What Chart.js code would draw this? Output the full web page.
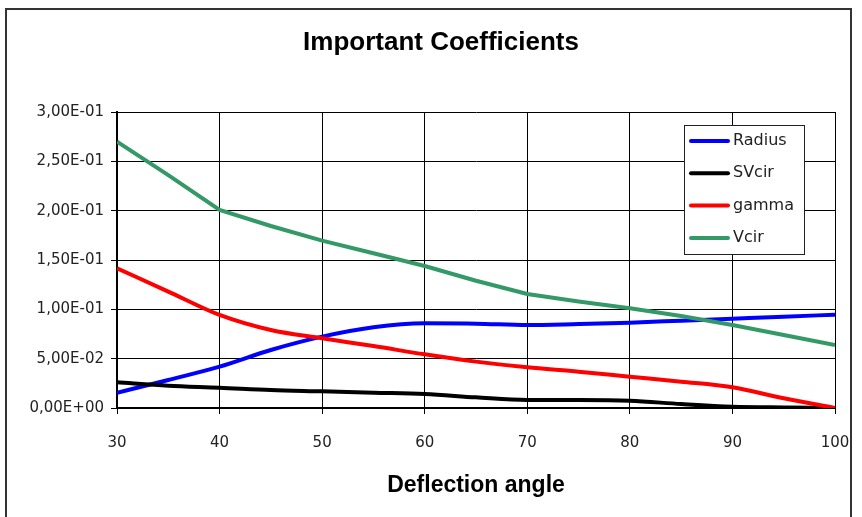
<!DOCTYPE html>
<html>
<head>
<meta charset="utf-8">
<script src="https://cdn.jsdelivr.net/npm/chart.js@4/dist/chart.umd.min.js"></script>
<style>
  html, body { margin: 0; padding: 0; background: #fff; }
  #wrap { width: 862px; height: 517px; }
</style>
</head>
<body>
<div id="wrap"><canvas id="c" width="862" height="517"></canvas></div>
<script>
// Deflection angle (degrees)
const angles = [30, 35, 40, 45, 50, 55, 60, 65, 70, 75, 80, 85, 90, 95, 100];

// Coefficient series
const radius = [0.0155, 0.0284, 0.0419, 0.0588, 0.0723, 0.0818, 0.0858, 0.0855, 0.0840, 0.0851, 0.0865, 0.0885, 0.0905, 0.0925, 0.0946];
const svcir  = [0.0260, 0.0226, 0.0206, 0.0182, 0.0169, 0.0155, 0.0142, 0.0108, 0.0081, 0.0081, 0.0074, 0.0040, 0.0013, 0.0005, 0.0000];
const gamma  = [0.1416, 0.1180, 0.0943, 0.0790, 0.0706, 0.0628, 0.0544, 0.0470, 0.0412, 0.0368, 0.0317, 0.0267, 0.0210, 0.0098, 0.0000];
const vcir   = [0.2699, 0.2360, 0.2007, 0.1845, 0.1696, 0.1568, 0.1439, 0.1290, 0.1155, 0.1080, 0.1010, 0.0932, 0.0841, 0.0740, 0.0638];

const seriesNames = ['Radius', 'SVcir', 'gamma', 'Vcir'];
const seriesColors = ['#0000ff', '#000000', '#ff0000', '#339966'];
const seriesValues = [radius, svcir, gamma, vcir];
const smoothSeries = [true, true, true, false];

const chartTitle = 'Important Coefficients';
const xAxisTitle = 'Deflection angle';

const toPoints = vals => angles.map((a, i) => ({ x: a, y: vals[i] }));

// Scientific labels with a decimal comma, e.g. 2,50E-01
function sciLabel(v) {
  if (Math.abs(v) < 1e-12) return '0,00E+00';
  const [m, e] = v.toExponential(2).split('e');
  const n = parseInt(e, 10);
  const exp = (n < 0 ? '-' : '+') + String(Math.abs(n)).padStart(2, '0');
  return m.replace('.', ',') + 'E' + exp;
}

// Outer frame and the chart heading
const framePlugin = {
  id: 'frame',
  beforeDraw(chart, args, opts) {
    const ctx = chart.ctx;
    ctx.save();
    ctx.fillStyle = '#fff';
    ctx.fillRect(0, 0, chart.width, chart.height);
    ctx.strokeStyle = '#333';
    ctx.lineWidth = 2;
    ctx.strokeRect(6, 9, 845, 530);
    ctx.fillStyle = '#000';
    ctx.font = 'bold 26px "Liberation Sans", Arial, sans-serif';
    ctx.textAlign = 'center';
    ctx.textBaseline = 'middle';
    ctx.fillText(opts.text, opts.cx, opts.cy);
    ctx.restore();
  }
};

// Boxed legend inside the plot area
const boxLegend = {
  id: 'boxLegend',
  afterDatasetsDraw(chart, args, opts) {
    const ctx = chart.ctx;
    const { x, y, w, h, rowH, lineLen, gap } = opts;
    ctx.save();
    ctx.fillStyle = '#fff';
    ctx.fillRect(x, y, w, h);
    ctx.strokeStyle = '#222';
    ctx.lineWidth = 1;
    ctx.strokeRect(x + 0.5, y + 0.5, w, h);
    ctx.font = '16px "DejaVu Sans"';
    ctx.textBaseline = 'middle';
    chart.data.datasets.forEach((ds, i) => {
      const cy = y + 16 + i * rowH;
      ctx.strokeStyle = ds.borderColor;
      ctx.lineWidth = 4;
      ctx.lineCap = 'round';
      ctx.beginPath();
      ctx.moveTo(x + 7, cy);
      ctx.lineTo(x + 7 + lineLen, cy);
      ctx.stroke();
      ctx.fillStyle = '#222';
      ctx.fillText(ds.label, x + 7 + lineLen + gap, cy);
    });
    ctx.restore();
  }
};

new Chart(document.getElementById('c'), {
  type: 'line',
  data: {
    datasets: seriesNames.map((name, i) => ({
      label: name,
      data: toPoints(seriesValues[i]),
      borderColor: seriesColors[i],
      backgroundColor: seriesColors[i],
      borderWidth: 4,
      pointRadius: 0,
      cubicInterpolationMode: smoothSeries[i] ? 'monotone' : 'default',
      tension: 0,
      fill: false,
      order: seriesNames.length - i
    }))
  },
  options: {
    responsive: false,
    devicePixelRatio: 1,
    animation: false,
    layout: { padding: { left: 0, right: 27, top: 112, bottom: 0 } },
    plugins: {
      legend: { display: false },
      tooltip: { enabled: false },
      title: { display: false },
      frame: { text: chartTitle, cx: 441, cy: 43 },
      boxLegend: { x: 684, y: 125, w: 120, h: 129, rowH: 32.3, lineLen: 37, gap: 5 }
    },
    scales: {
      x: {
        type: 'linear',
        min: 30,
        max: 100,
        afterFit(s) { s.height = 109; s.paddingLeft = 0; s.paddingRight = 0; },
        ticks: {
          stepSize: 10,
          color: '#222',
          padding: 20,
          font: { family: '"DejaVu Sans", sans-serif', size: 15 }
        },
        grid: { color: '#000', lineWidth: 1, tickLength: 6, drawTicks: true },
        border: { color: '#000', width: 2 },
        title: {
          display: true,
          text: xAxisTitle,
          color: '#000',
          font: { family: '"Liberation Sans", Arial, sans-serif', size: 23, weight: 'bold', lineHeight: 1.2 },
          padding: { top: 0, bottom: 18 }
        }
      },
      y: {
        min: 0,
        max: 0.3,
        afterFit(s) { s.width = 117; s.paddingTop = 0; s.paddingBottom = 0; },
        ticks: {
          stepSize: 0.05,
          color: '#222',
          padding: 7,
          font: { family: '"DejaVu Sans", sans-serif', size: 15 },
          callback: v => sciLabel(v)
        },
        grid: { color: '#000', lineWidth: 1, tickLength: 6, drawTicks: true },
        border: { color: '#000', width: 2 }
      }
    }
  },
  plugins: [framePlugin, boxLegend]
});
</script>
</body>
</html>
